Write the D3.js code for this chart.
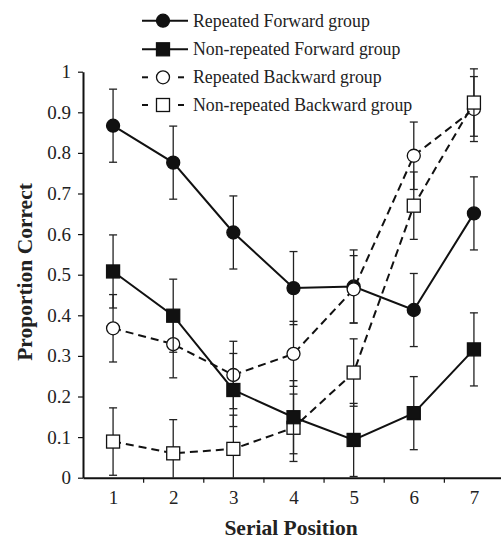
<!DOCTYPE html>
<html><head><meta charset="utf-8">
<script src="https://cdn.jsdelivr.net/npm/d3@7"></script>
<style>body{margin:0;background:#fff}svg{display:block}text{font-family:"Liberation Serif","Times New Roman",serif;fill:#222}</style>
</head><body><div id="chart"></div>
<script>
const positions = [1,2,3,4,5,6,7];
const yTicks = [0,0.1,0.2,0.3,0.4,0.5,0.6,0.7,0.8,0.9,1];
const seriesNames = ["Repeated Forward group","Non-repeated Forward group","Repeated Backward group","Non-repeated Backward group"];
const repFwd = [0.867,0.776,0.604,0.467,0.471,0.413,0.651];
const repFwdErr = [0.09,0.09,0.09,0.09,0.09,0.09,0.09];
const nonRepFwd = [0.508,0.399,0.216,0.149,0.093,0.159,0.316];
const nonRepFwdErr = [0.09,0.09,0.09,0.09,0.09,0.09,0.09];
const repBwd = [0.368,0.329,0.253,0.305,0.464,0.793,0.908];
const repBwdErr = [0.083,0.083,0.083,0.08,0.083,0.083,0.08];
const nonRepBwd = [0.089,0.060,0.071,0.123,0.259,0.670,0.924];
const nonRepBwdErr = [0.083,0.083,0.083,0.083,0.083,0.083,0.083];

const W=501,H=540;
const svg=d3.select("#chart").append("svg").attr("width",W).attr("height",H);
const x=d3.scaleLinear().domain([0.5,7.5]).range([83,504]);
const y=d3.scaleLinear().domain([0,1]).range([477.7,71.7]);

// y axis
const ya=svg.append("g").attr("transform","translate(83,0)")
  .call(d3.axisLeft(y).tickValues(yTicks).tickSize(5).tickSizeOuter(0).tickPadding(7).tickFormat(d=>d===0?"0":d===1?"1":d3.format(".1f")(d)));
ya.select(".domain").attr("stroke","#111").attr("stroke-width",2);
ya.selectAll(".tick line").attr("stroke","#111").attr("stroke-width",1.2);
ya.selectAll("text").style("font-size","19px").style("font-family","Liberation Serif").attr("fill","#222");

// x axis
const xa=svg.append("g").attr("transform","translate(0,477.7)")
  .call(d3.axisBottom(x).tickValues([1.5,2.5,3.5,4.5,5.5,6.5]).tickSize(5).tickSizeOuter(0).tickFormat(""));
xa.select(".domain").attr("stroke","#111").attr("stroke-width",2);
xa.selectAll(".tick line").attr("stroke","#111").attr("stroke-width",1.2);
const xl=svg.append("g").attr("transform","translate(0,477.7)")
  .call(d3.axisBottom(x).tickValues(positions).tickSize(0).tickPadding(13).tickFormat(d3.format("d")));
xl.select(".domain").remove();
xl.selectAll("text").style("font-size","19px").style("font-family","Liberation Serif").attr("fill","#222");

// axis titles
svg.append("text").attr("x",291).attr("y",535).attr("text-anchor","middle")
  .style("font-size","21.5px").style("font-weight","bold").text("Serial Position");
svg.append("text").attr("transform","translate(32,272) rotate(-90)").attr("text-anchor","middle")
  .style("font-size","21.5px").style("font-weight","bold").text("Proportion Correct");

const series=[
  {name:seriesNames[0],vals:repFwd,err:repFwdErr,shape:"circle",fill:"#111",dash:null},
  {name:seriesNames[2],vals:repBwd,err:repBwdErr,shape:"circle",fill:"#fff",dash:"8,5"},
  {name:seriesNames[3],vals:nonRepBwd,err:nonRepBwdErr,shape:"square",fill:"#fff",dash:"8,5"},
  {name:seriesNames[1],vals:nonRepFwd,err:nonRepFwdErr,shape:"square",fill:"#111",dash:null}
];
const line=d3.line().x((d,i)=>x(positions[i])).y(d=>y(d));
function marker(g,shape,fill,cx,cy){
  if(shape==="circle") g.append("circle").attr("cx",cx).attr("cy",cy).attr("r",6.5).attr("fill",fill).attr("stroke","#111").attr("stroke-width",1.3);
  else g.append("rect").attr("x",cx-6.5).attr("y",cy-6.5).attr("width",13).attr("height",13).attr("fill",fill).attr("stroke","#111").attr("stroke-width",1.3);
}
series.forEach(s=>{
  const g=svg.append("g");
  g.append("path").datum(s.vals).attr("d",line).attr("fill","none").attr("stroke","#111").attr("stroke-width",2)
    .attr("stroke-dasharray",s.dash);
  s.vals.forEach((v,i)=>{
    const cx=x(positions[i]);
    const lo=Math.max(0,v-s.err[i]), hi=v+s.err[i];
    g.append("line").attr("x1",cx).attr("x2",cx).attr("y1",y(lo)).attr("y2",y(hi)).attr("stroke","#222").attr("stroke-width",1.3);
    g.append("line").attr("x1",cx-4).attr("x2",cx+4).attr("y1",y(hi)).attr("y2",y(hi)).attr("stroke","#222").attr("stroke-width",1.3);
    if(v-s.err[i]>0) g.append("line").attr("x1",cx-4).attr("x2",cx+4).attr("y1",y(lo)).attr("y2",y(lo)).attr("stroke","#222").attr("stroke-width",1.3);
  });
  s.vals.forEach((v,i)=>marker(g,s.shape,s.fill,x(positions[i]),y(v)));
});

// legend
const legendOrder=[series[0],series[3],series[1],series[2]];
const rowsY=[20.7,49.3,77.3,105];
legendOrder.forEach((s,i)=>{
  const g=svg.append("g");
  const ly=rowsY[i];
  if(s.dash){
    g.append("line").attr("x1",142).attr("x2",148).attr("y1",ly).attr("y2",ly).attr("stroke","#111").attr("stroke-width",2);
    g.append("line").attr("x1",156).attr("x2",170).attr("y1",ly).attr("y2",ly).attr("stroke","#111").attr("stroke-width",2);
    g.append("line").attr("x1",178).attr("x2",184).attr("y1",ly).attr("y2",ly).attr("stroke","#111").attr("stroke-width",2);
  } else {
    g.append("line").attr("x1",142).attr("x2",188).attr("y1",ly).attr("y2",ly).attr("stroke","#111").attr("stroke-width",2);
  }
  marker(g,s.shape,s.fill,163,ly);
  g.append("text").attr("x",193).attr("y",ly+6).style("font-size","17.8px").text(s.name);
});
</script></body></html>
